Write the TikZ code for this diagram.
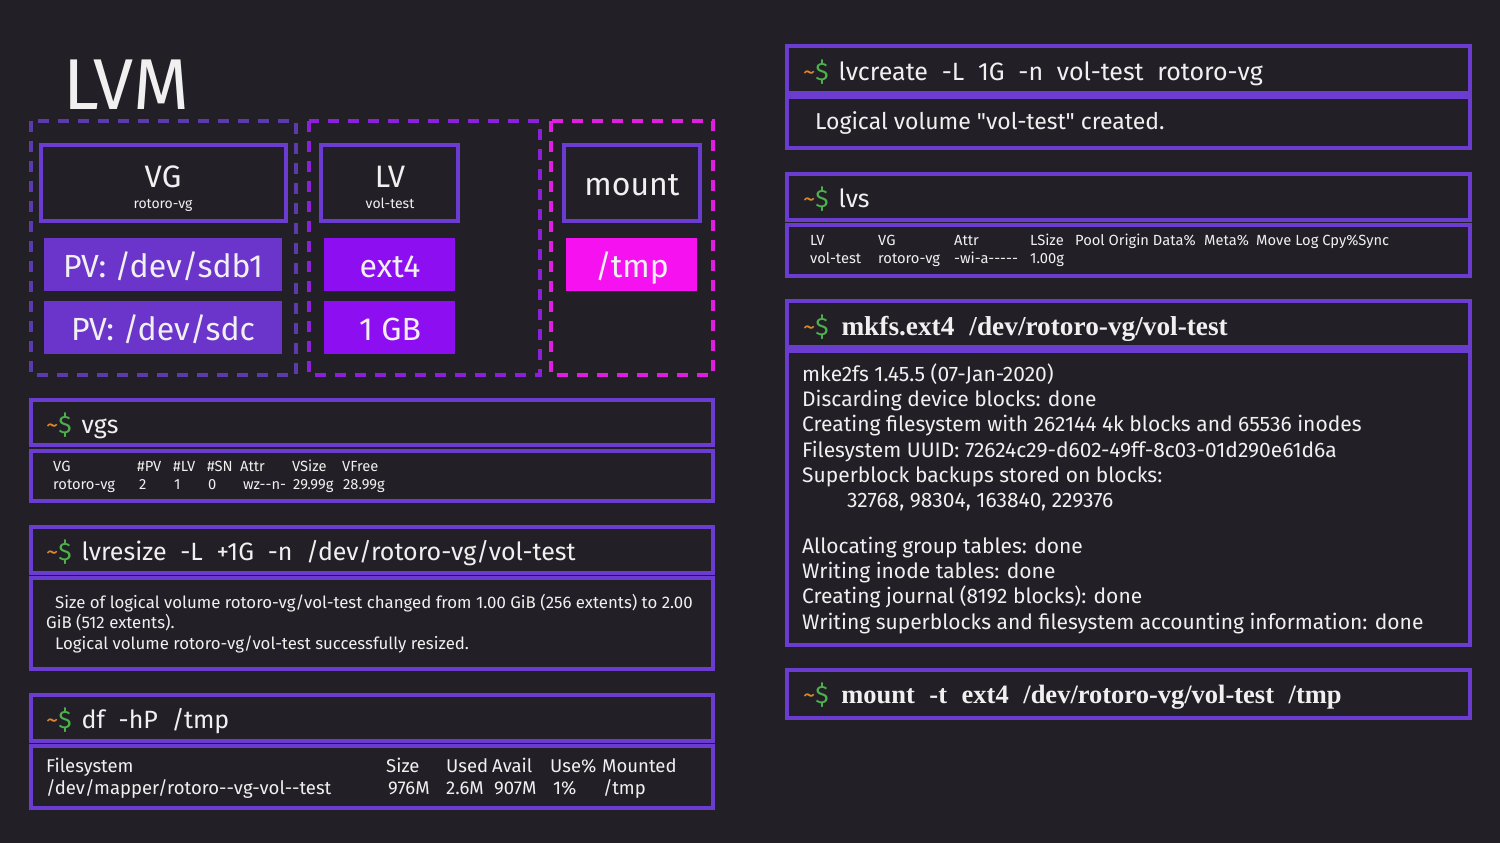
\documentclass[tikz,border=0pt]{standalone}
\usepackage{fontspec}
\setmainfont{Fira Sans}[Ligatures=TeXOff]
\newfontfamily\cmdserif{Liberation Serif}[Ligatures=TeXOff]
\definecolor{bgc}{HTML}{222026}
\definecolor{bord}{HTML}{6A3CCF}
\definecolor{pvfill}{HTML}{6B35CC}
\definecolor{lvfill}{HTML}{8E0EF2}
\definecolor{mfill}{HTML}{F612F0}
\definecolor{dA}{HTML}{5B3AAE}
\definecolor{dB}{HTML}{8B1FDC}
\definecolor{dC}{HTML}{E21DE2}
\definecolor{tildec}{HTML}{E0862A}
\definecolor{dollarc}{HTML}{4DB04D}
\definecolor{fg}{HTML}{F0F0F0}
\newcommand\prm{{\color{tildec}\textasciitilde}{\color{dollarc}\$}\hspace{0.4em}}
\newcommand\gapp{\hspace{0.55em}}
\newcommand\fs[1]{\fontsize{#1}{#1}\selectfont}
\begin{document}
\begin{tikzpicture}[x=1pt,y=-1pt,
  solidbox/.style={draw=bord, line width=4pt},
  dashA/.style={draw=dA, line width=3.5pt, dash pattern=on 11pt off 9pt},
  dashB/.style={draw=dB, line width=3.5pt, dash pattern=on 11pt off 9pt},
  dashC/.style={draw=dC, line width=3.5pt, dash pattern=on 11pt off 9pt},
  tw/.style={inner sep=0pt, text=fg, anchor=base west},
  tc/.style={inner sep=0pt, text=fg, anchor=base},
  hdr/.style={tw, font=\fs{25}},
  small/.style={tw, font=\fs{14.7}},
  mid/.style={tw, font=\fs{16.8}},
  big/.style={tw, font=\fs{21}}]
\fill[bgc] (0,0) rectangle (1500,843);
\useasboundingbox (0,0) rectangle (1500,843);

% ---------- LVM diagram ----------
\node[tw, font=\fs{72}] (title) at (63,110) {LVM};
\draw[dashA] (31,121) rectangle (296,375);
\draw[dashB] (309,121) rectangle (540,375);
\draw[dashC] (551,121) rectangle (713,375);

\draw[solidbox] (41,145) rectangle (286,221);
\draw[solidbox] (321,145) rectangle (458,221);
\draw[solidbox] (564,145) rectangle (700,221);
\fill[pvfill] (44,238) rectangle (282,291);
\fill[pvfill] (44,301) rectangle (282,354);
\fill[lvfill] (324,238) rectangle (455,291);
\fill[lvfill] (324,301) rectangle (455,354);
\fill[mfill] (566,238) rectangle (697,291);

\node[tc, font=\fs{31}] (vg) at (163,187) {VG};
\node[tc, font=\fs{14}] (vgname) at (163,208) {rotoro-vg};
\node[tc, font=\fs{31}] (lv) at (390,187) {LV};
\node[tc, font=\fs{14}] (lvname) at (390,208) {vol-test};
\node[tc, font=\fs{32}] (mnt) at (632,195) {mount};
\node[tc, font=\fs{32}] (pv1) at (163,277) {PV: /dev/sdb1};
\node[tc, font=\fs{32}] (pv2) at (163,340) {PV: /dev/sdc};
\node[tc, font=\fs{32}] (ext) at (390,277) {ext4};
\node[tc, font=\fs{32}] (size) at (390,340) {1 GB};
\node[tc, font=\fs{32}] (tmp) at (632,277) {/tmp};

% ---------- vgs ----------
\draw[solidbox] (31,400) rectangle (713,445);
\draw[solidbox] (31,451) rectangle (713,501);
\node[hdr] (vgsh) at (46,433) {\prm vgs};
\foreach \x/\a/\xb/\b [count=\i] in {53/VG/53/rotoro-vg, 137/\#PV/139/2, 173/\#LV/174/1, 207/\#SN/208/0, 240/Attr/243/wz--n-, 292/VSize/293/29.99g, 342/VFree/343/28.99g}{
  \node[small] (vgsa\i) at (\x,471) {\a};
  \node[small] (vgsb\i) at (\xb,489) {\b};
}

% ---------- lvresize ----------
\draw[solidbox] (31,527) rectangle (713,573);
\draw[solidbox] (31,578) rectangle (713,669);
\node[hdr] (lvrh) at (46,560) {\prm lvresize\gapp-L\gapp+1G\gapp-n\gapp/dev/rotoro-vg/vol-test};
\node[mid] (lvr1) at (55,608) {Size of logical volume rotoro-vg/vol-test changed from 1.00 GiB (256 extents) to 2.00};
\node[mid] (lvr2) at (46,628) {GiB (512 extents).};
\node[mid] (lvr3) at (55,649) {Logical volume rotoro-vg/vol-test successfully resized.};

% ---------- df ----------
\draw[solidbox] (31,695) rectangle (713,741);
\draw[solidbox] (31,746) rectangle (713,808);
\node[hdr] (dfh) at (46,728) {\prm df\gapp-hP\gapp/tmp};
\foreach \x/\a [count=\i] in {46/Filesystem, 386/Size, 446/Used, 492/Avail, 550/Use\%, 602/Mounted}{
  \node[tw, font=\fs{18.5}] (dfa\i) at (\x,772) {\a};
}
\foreach \x/\a [count=\i] in {46/{/dev/mapper/rotoro--vg-vol--test}, 388/976M, 446/2.6M, 494/907M, 553/1\%, 603/{/tmp}}{
  \node[tw, font=\fs{18.5}] (dfb\i) at (\x,794) {\a};
}

% ---------- lvcreate ----------
\draw[solidbox] (787,46) rectangle (1470,93);
\draw[solidbox] (787,97) rectangle (1470,148);
\node[hdr] (lvch) at (803,81) {\prm lvcreate\gapp-L\gapp1G\gapp-n\gapp vol-test\gapp rotoro-vg};
\node[big, font=\fs{23}] (lvcb) at (815,129) {Logical volume "vol-test" created.};

% ---------- lvs ----------
\draw[solidbox] (787,174) rectangle (1470,220);
\draw[solidbox] (787,225) rectangle (1470,276);
\node[hdr] (lvsh) at (803,207) {\prm lvs};
\foreach \x/\a [count=\i] in {810/LV, 878/VG, 954/Attr, 1030/LSize, 1075/Pool Origin Data\%, 1204/Meta\%, 1256/Move Log Cpy\%Sync}{
  \node[small] (lvsa\i) at (\x,245) {\a};
}
\foreach \x/\a [count=\i] in {810/vol-test, 878/rotoro-vg, 954/-wi-a-----, 1030/1.00g}{
  \node[small] (lvsb\i) at (\x,263) {\a};
}

% ---------- mkfs ----------
\draw[solidbox] (787,301) rectangle (1470,347);
\draw[solidbox] (787,351) rectangle (1470,645);
\node[hdr] (mkh) at (803,335) {\prm\hspace{-4pt}{\cmdserif\bfseries\fs{27.3} mkfs.ext4\gapp/dev/rotoro-vg/vol-test}};
\foreach \x/\y/\a [count=\i] in {802/381/mke2fs 1.45.5 (07-Jan-2020), 802/406/Discarding device blocks: done, 802/431/Creating filesystem with 262144 4k blocks and 65536 inodes, 802/457/Filesystem UUID: 72624c29-d602-49ff-8c03-01d290e61d6a, 802/482/Superblock backups stored on blocks:, 847/507/{32768, 98304, 163840, 229376}, 802/553/Allocating group tables: done, 802/578/Writing inode tables: done, 802/603/Creating journal (8192 blocks): done, 802/629/Writing superblocks and filesystem accounting information: done}{
  \node[big] (mk\i) at (\x,\y) {\a};
}

% ---------- mount ----------
\draw[solidbox] (787,670) rectangle (1470,718);
\node[hdr] (mth) at (803,703) {\prm\hspace{-4pt}{\cmdserif\bfseries\fs{26.5} mount\gapp-t\gapp ext4\gapp/dev/rotoro-vg/vol-test\gapp/tmp}};
\end{tikzpicture}
\end{document}
